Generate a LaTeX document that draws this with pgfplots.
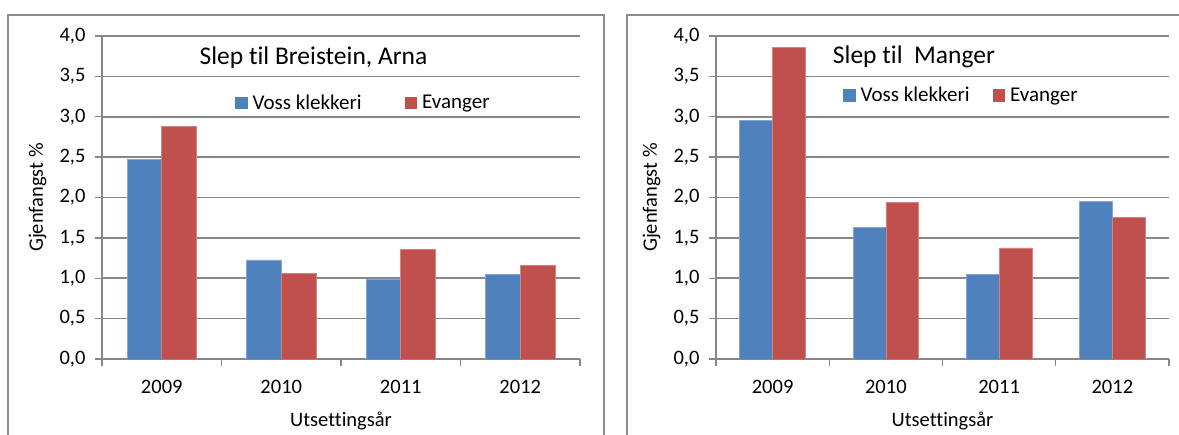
\documentclass[border=0pt]{standalone}
\usepackage{fontspec}
\setmainfont{Carlito}[Ligatures=NoCommon]
\usepackage{pgfplots}
\pgfplotsset{compat=1.18}
\definecolor{vblue}{HTML}{4F81BD}
\definecolor{ered}{HTML}{C0504D}
\definecolor{gline}{HTML}{878787}
\definecolor{fline}{HTML}{8C8C8C}

\pgfplotsset{
  excelbar/.style={
    scale only axis,
    height=323pt,
    ymin=0, ymax=4,
    xmin=-0.5, xmax=3.5,
    enlargelimits=false,
    ytick={0,0.5,...,4},
    xtick={-0.5,0.5,1.5,2.5,3.5},
    xticklabels={2009,2010,2011,2012},
    x tick label as interval=true,
    axis x line=bottom, axis y line=left,
    axis line style={-, gline, line width=1.6pt},
    tick style={gline, line width=1.4pt},
    tick align=outside,
    major tick length=7pt,
    ymajorgrids=true,
    grid style={gline, line width=1.6pt},
    /pgf/number format/assume math mode=true,
    /pgf/number format/.cd, fixed, fixed zerofill, precision=1, use comma,
    /pgfplots/.cd,
    tick label style={font=\fontsize{20.5}{24}\selectfont, text=black},
    yticklabel style={xshift=-6pt},
    xticklabel style={anchor=center, yshift=-21pt},
    label style={font=\fontsize{20.5}{24}\selectfont},
    xlabel={Utsettingsår},
    xlabel style={at={(axis description cs:0.5,-0.192)}, anchor=center},
    ylabel={Gjenfangst \%},
    ybar=0pt,
    bar width=0.29,
    legend columns=2,
    legend style={draw=none, fill=none, font=\fontsize{21}{24}\selectfont,
      anchor=west, inner sep=0pt,
      nodes={inner sep=1pt, anchor=west}},
    legend image code/.code={\fill[##1, draw=none] (0pt,-6.5pt) rectangle (12.5pt,6pt);
      \path[draw=none, fill=none] (0pt,0pt) -- (16.5pt,0pt);},
  },
}

\begin{document}
\begin{tikzpicture}
\useasboundingbox (0pt,0pt) rectangle (1179pt,435pt);
\clip (0pt,0pt) rectangle (1179pt,435pt);
\draw[fline, line width=1.5pt] (8pt,-10pt) -- (8pt,420pt) -- (604pt,420pt) -- (604pt,-10pt);
\draw[fline, line width=1.5pt] (627pt,-10pt) -- (627pt,420pt) -- (1200pt,420pt);

\begin{axis}[excelbar,
  at={(102pt,76pt)}, anchor=south west,
  width=478pt,
  ylabel style={at={(axis description cs:-0.135,0.5)}, anchor=center, rotate=0},
  legend style={at={(axis description cs:0.278,0.793)}, /tikz/every even column/.append style={column sep=42pt}},
]
\addplot[fill=vblue, draw=vblue!70!white, line width=0.6pt] coordinates {(0,2.47) (1,1.226) (2,0.987) (3,1.049)};
\addplot[fill=ered, draw=ered!70!white, line width=0.6pt] coordinates {(0,2.88) (1,1.056) (2,1.358) (3,1.156)};
\legend{Voss klekkeri, Evanger}
\node[font=\fontsize{25.5}{30}\selectfont] at (axis description cs:0.4425,0.932) {Slep til Breistein, Arna};
\end{axis}

\begin{axis}[excelbar,
  at={(716pt,76pt)}, anchor=south west,
  width=453pt,
  ylabel style={at={(axis description cs:-0.142,0.5)}, anchor=center, rotate=0},
  legend style={at={(axis description cs:0.280,0.817)}, /tikz/every even column/.append style={column sep=22pt}},
]
\addplot[fill=vblue, draw=vblue!70!white, line width=0.6pt] coordinates {(0,2.95) (1,1.626) (2,1.049) (3,1.948)};
\addplot[fill=ered, draw=ered!70!white, line width=0.6pt] coordinates {(0,3.86) (1,1.94) (2,1.375) (3,1.758)};
\legend{Voss klekkeri, Evanger}
\node[font=\fontsize{25.5}{30}\selectfont] at (axis description cs:0.437,0.935) {Slep til\ \ Manger};
\end{axis}
\end{tikzpicture}
\end{document}
